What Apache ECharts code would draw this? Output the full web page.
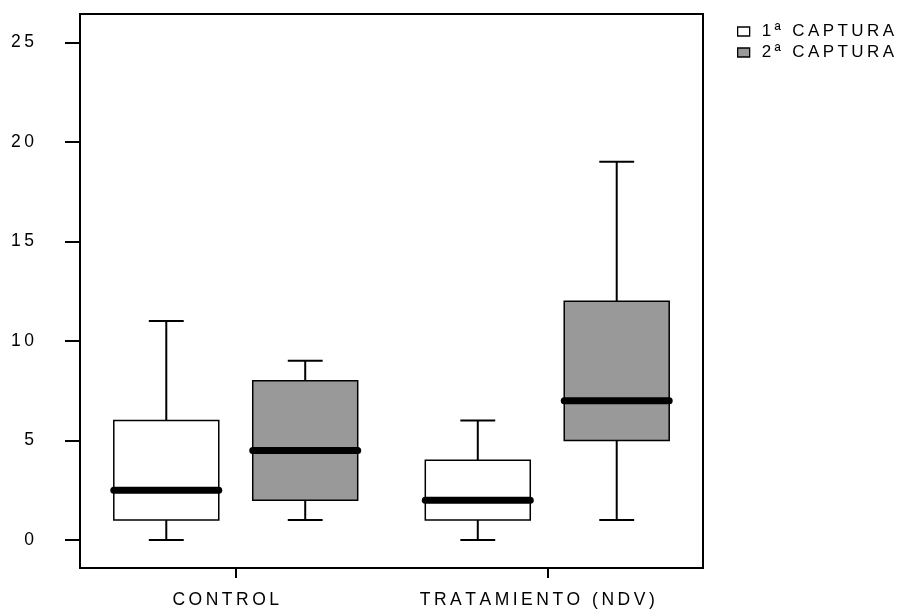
<!DOCTYPE html>
<html>
<head>
<meta charset="utf-8">
<script src="https://cdn.jsdelivr.net/npm/echarts@6/dist/echarts.min.js"></script>
<style>
  html, body { margin: 0; padding: 0; background: #fff; }
  #chart { width: 902px; height: 610px; }
</style>
</head>
<body>
<div id="chart"></div>
<script>
// Groups on the x axis
const categories = ['CONTROL', 'TRATAMIENTO (NDV)'];
const seriesNames = ['1ª CAPTURA', '2ª CAPTURA'];
// Box statistics per group: [min, Q1, median, Q3, max]
const captura1 = [
  [0, 1, 2.5, 6, 11],
  [0, 1, 2, 4, 6]
];
const captura2 = [
  [1, 2, 4.5, 8, 9],
  [1, 5, 7, 12, 19]
];
const yTicks = [0, 5, 10, 15, 20, 25];

const FONT = "'Liberation Sans', Arial, sans-serif";
const spaced = s => Array.from(String(s)).join('\u2009');

// Draws one box with whiskers and a heavy median bar, shifted within its band
function makeRenderer(shift) {
  return function (params, api) {
    const cat = api.value(0);
    const band = api.size([1, 0])[0];
    const cx = api.coord([cat, 0])[0] + shift * band;
    const half = 0.1685 * band;
    const capHalf = 0.056 * band;
    const y = i => api.coord([cat, api.value(i)])[1];
    const yMin = y(1), yQ1 = y(2), yMed = y(3), yQ3 = y(4), yMax = y(5);
    const fill = api.visual('color');
    const line = { stroke: '#000', lineWidth: 2 };
    return {
      type: 'group',
      children: [
        { type: 'line', shape: { x1: cx, y1: yQ3, x2: cx, y2: yMax }, style: line },
        { type: 'line', shape: { x1: cx - capHalf, y1: yMax, x2: cx + capHalf, y2: yMax }, style: line },
        { type: 'line', shape: { x1: cx, y1: yQ1, x2: cx, y2: yMin }, style: line },
        { type: 'line', shape: { x1: cx - capHalf, y1: yMin, x2: cx + capHalf, y2: yMin }, style: line },
        { type: 'rect', shape: { x: cx - half, y: yQ3, width: 2 * half, height: yQ1 - yQ3 },
          style: { fill: fill, stroke: '#000', lineWidth: 1.5 } },
        { type: 'line', shape: { x1: cx - half, y1: yMed, x2: cx + half, y2: yMed },
          style: { stroke: '#000', lineWidth: 7, lineCap: 'round' } }
      ]
    };
  };
}

const toData = rows => rows.map((r, i) => [i].concat(r));

const chart = echarts.init(document.getElementById('chart'), null, { renderer: 'canvas' });
chart.setOption({
  animation: false,
  backgroundColor: '#fff',
  textStyle: { fontFamily: FONT },
  grid: {
    left: 80, right: 199, top: 14, bottom: 42,
    show: true, borderColor: '#000', borderWidth: 2, backgroundColor: 'transparent'
  },
  legend: {
    orient: 'vertical',
    left: 737, top: 23,
    padding: 0,
    itemGap: 4,
    itemWidth: 12, itemHeight: 9,
    icon: 'rect',
    textStyle: { fontFamily: FONT, fontSize: 17, color: '#000', lineHeight: 17, padding: [0, 0, 0, 7] },
    formatter: name => spaced(name),
    data: [
      { name: seriesNames[0], itemStyle: { color: '#fff', borderColor: '#000', borderWidth: 1.3 } },
      { name: seriesNames[1], itemStyle: { color: '#999', borderColor: '#000', borderWidth: 1.3 } }
    ]
  },
  xAxis: {
    type: 'category',
    data: categories,
    boundaryGap: true,
    axisLine: { show: false, onZero: false },
    axisTick: { show: true, alignWithLabel: true, length: 10, lineStyle: { color: '#000', width: 2 } },
    axisLabel: {
      margin: 23, fontFamily: FONT, fontSize: 17.5, color: '#000',
      padding: [0, 20, 0, 0],
      formatter: v => spaced(v)
    },
    splitLine: { show: false }
  },
  yAxis: {
    type: 'value',
    min: -1.41, max: 26.43,
    axisLine: { show: false },
    axisTick: { show: true, length: 15, customValues: yTicks, lineStyle: { color: '#000', width: 2 } },
    axisLabel: {
      margin: 46, fontFamily: FONT, fontSize: 17.5, color: '#000',
      customValues: yTicks,
      formatter: v => spaced(v)
    },
    splitLine: { show: false }
  },
  series: [
    {
      name: seriesNames[0], type: 'custom',
      renderItem: makeRenderer(-0.223),
      itemStyle: { color: '#fff' },
      encode: { x: 0, y: [1, 2, 3, 4, 5] },
      data: toData(captura1)
    },
    {
      name: seriesNames[1], type: 'custom',
      renderItem: makeRenderer(0.223),
      itemStyle: { color: '#999' },
      encode: { x: 0, y: [1, 2, 3, 4, 5] },
      data: toData(captura2)
    }
  ]
});
</script>
</body>
</html>
